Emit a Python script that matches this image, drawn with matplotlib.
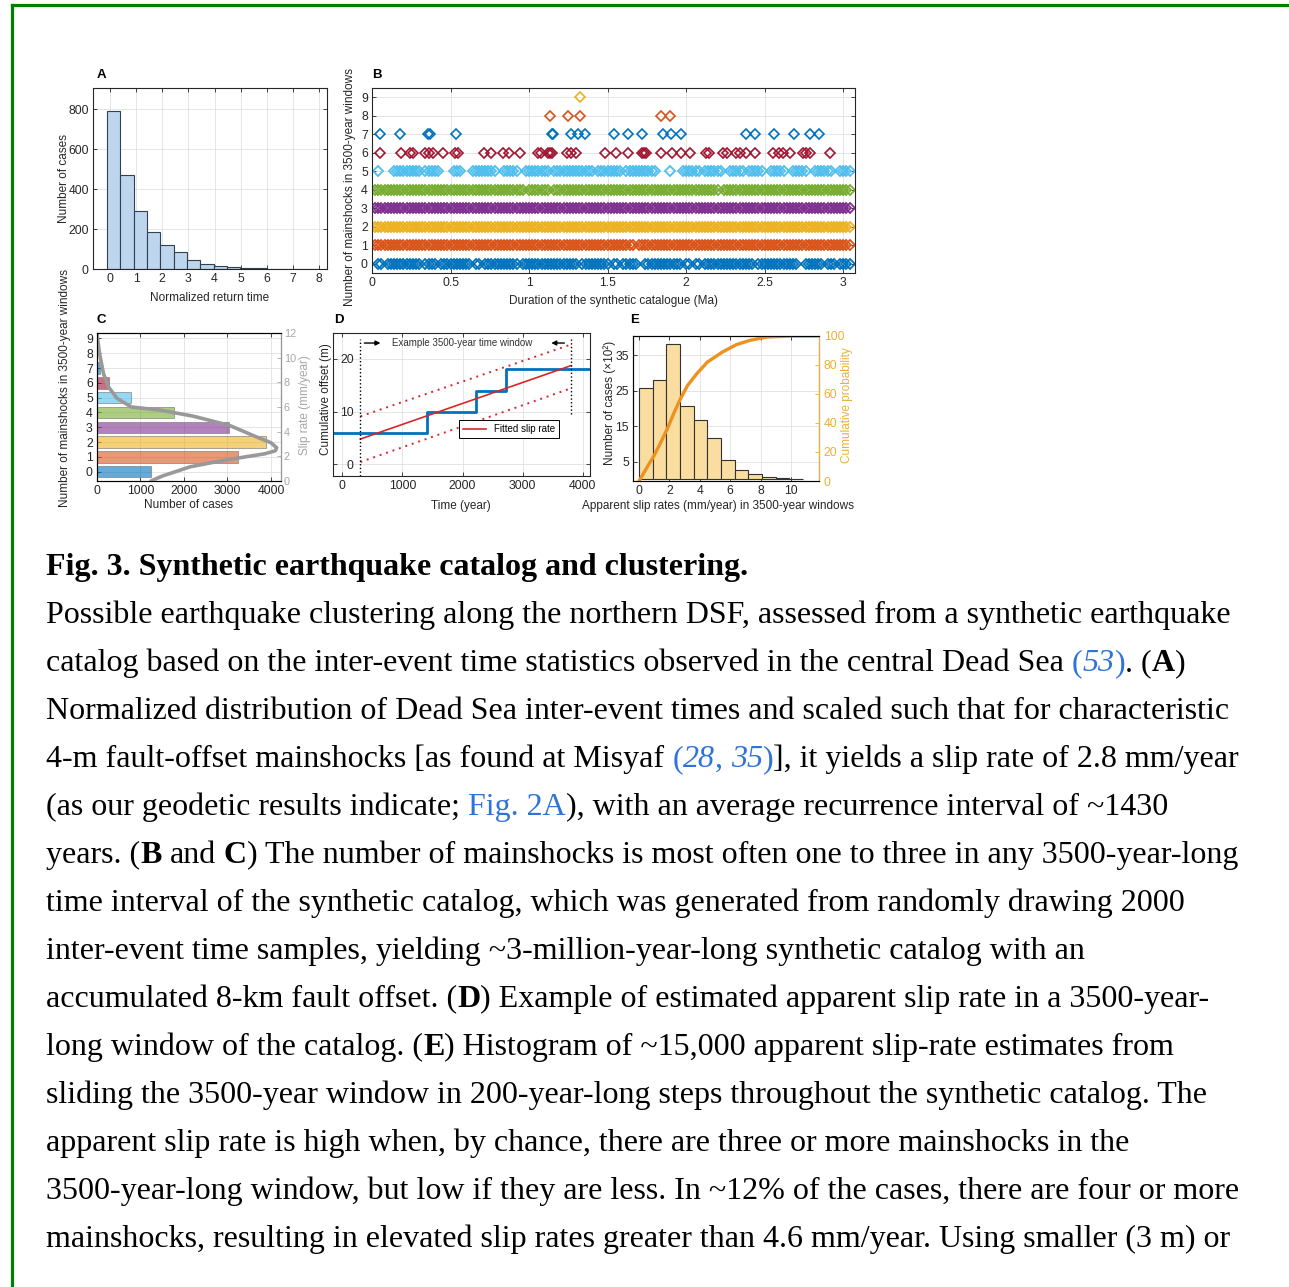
import matplotlib
matplotlib.use("Agg")
import matplotlib.pyplot as plt
from matplotlib import ticker
from matplotlib.lines import Line2D

W, H = 1289, 1287

# ---------------- A: normalized return time
a_edges = [-0.12, 0.39, 0.90, 1.41, 1.92, 2.43, 2.94, 3.45, 3.96, 4.47, 4.98,
           5.49, 6.00, 6.51, 7.02, 7.53, 8.04]
a_counts = [790, 472, 292, 185, 118, 84, 47, 27, 15, 11, 5, 3, 2, 2, 1, 1]

# ---------------- B: windows per mainshock count (1 char = 0.02 Ma bin)
b_bin = 0.02
b_rows = [
    "0011011111 1111110111 1011111111 1101101111 1111111011 1111111111 1111110111 1111110110 "
    "1111100111 1111111110 1101101111 1111111111 1101111111 1111110011 1111011101 1110000000",
    "0111111111 1111111111 1111111111 1111111111 1111111111 1111111111 1111111111 1111111111 "
    "1111011111 1111111111 1111111111 1111111111 1111111111 1111111111 1111111111 1110000000",
    "0111111111 1111111111 1111111111 1111111111 1111111111 1111111111 1111111111 1111111111 "
    "1111111111 1111111111 1111111111 1111111111 1111111111 1111111111 1111111111 1110000000",
    "0111111111 1111111111 1111111111 1111111111 1111111111 1111111111 1111111111 1111111111 "
    "1111111111 1111111111 1111111111 1111111111 1111111111 1111111111 1111111111 1110000000",
    "0111111111 1111111111 1111111111 1111111111 1111111110 1111111011 1111111111 1111111111 "
    "1111111111 1111111111 1111111111 1011111111 1111111111 1111111111 1111111111 1110000000",
    "0010000111 1111110111 1100001110 0011111111 0011111001 1111111011 1111111111 1011111111 "
    "0111111111 1000010001 1111101111 1100111110 1111100111 1100111110 0111111001 1110000000",
]
b_row6 = [0.053, 0.183, 0.24, 0.261, 0.335, 0.363, 0.389, 0.452, 0.527, 0.548, 0.711,
          0.760, 0.834, 0.873, 0.941, 1.057, 1.079, 1.121, 1.136, 1.149, 1.244, 1.270,
          1.301, 1.486, 1.552, 1.631, 1.716, 1.730, 1.743, 1.843, 1.913, 1.970, 2.023,
          2.125, 2.146, 2.236, 2.257, 2.32, 2.342, 2.38, 2.437, 2.554, 2.592, 2.614,
          2.66, 2.745, 2.766, 2.788, 2.919]
b_row7 = [0.053, 0.176, 0.357, 0.372, 0.537, 1.147, 1.153, 1.265, 1.312, 1.359, 1.539,
          1.631, 1.722, 1.853, 1.902, 1.970, 2.38, 2.437, 2.561, 2.686, 2.788, 2.845]
b_row8 = [1.136, 1.248, 1.327, 1.843, 1.896]
b_row9 = [1.327]
mcol = [(0, 0.447, 0.741), (0.85, 0.325, 0.098), (0.929, 0.694, 0.125),
        (0.494, 0.184, 0.556), (0.466, 0.674, 0.188), (0.301, 0.745, 0.933),
        (0.635, 0.078, 0.184), (0, 0.447, 0.741), (0.85, 0.325, 0.098),
        (0.929, 0.694, 0.125)]

# ---------------- C: counts per number of mainshocks + slip-rate curve
c_levels = [0, 1, 2, 3, 4, 5, 6, 7, 8, 9]
c_counts = [1240, 3250, 3880, 3040, 1760, 790, 285, 60, 10, 2]
c_curve_cases = [1240, 1500, 2140, 2800, 3400, 3850, 4100, 4130, 4000, 3650, 3050,
                 2220, 1450, 790, 460, 270, 150, 60, 15, 0]
c_curve_rate = [0.0, 0.4, 1.15, 1.6, 1.95, 2.2, 2.45, 2.7, 3.1, 3.6, 4.5,
                5.25, 5.75, 6.0, 6.7, 7.6, 8.7, 10.3, 11.5, 12.0]

# ---------------- D: example window
d_step_t = [-155, 1410, 2230, 2715, 4120]
d_step_off = [6, 10, 14, 18, 18]
d_fit_t = [300, 3800]
d_fit = [4.8, 18.7]
d_fit_hi = [9.1, 22.7]
d_fit_lo = [0.45, 14.4]

# ---------------- E: apparent slip rates
e_edges = [0, 0.9, 1.8, 2.7, 3.6, 4.5, 5.4, 6.3, 7.2, 8.1, 9.0, 9.9, 10.8]
e_counts = [25.7, 28.0, 38.1, 20.6, 16.7, 11.7, 5.3, 2.7, 1.4, 0.75, 0.3, 0.2]
e_cdf_x = [0, 0.5, 0.94, 1.4, 1.86, 2.3, 2.74, 3.2, 3.8, 4.5, 5.5, 6.4, 7.3, 8.4, 10, 11.9]
e_cdf_y = [0, 9, 16.6, 26, 36, 47, 57, 66, 74, 82, 89, 94, 97, 99.3, 100, 100]

# ---------------- caption
caption = [
    [("Fig. 3. Synthetic earthquake catalog and clustering.", "b")],
    [("Possible earthquake clustering along the northern DSF, assessed from a synthetic earthquake", "n")],
    [("catalog based on the inter-event time statistics observed in the central Dead Sea ", "n"),
     ("(", "ln"), ("53", "li"), (")", "ln"), (". (", "n"), ("A", "b"), (")", "n")],
    [("Normalized distribution of Dead Sea inter-event times and scaled such that for characteristic", "n")],
    [("4-m fault-offset mainshocks [as found at Misyaf ", "n"), ("(", "ln"), ("28", "li"),
     (", ", "ln"), ("35", "li"), (")", "ln"), ("], it yields a slip rate of 2.8 mm/year", "n")],
    [("(as our geodetic results indicate; ", "n"), ("Fig. 2A", "ln"),
     ("), with an average recurrence interval of ~1430", "n")],
    [("years. (", "n"), ("B", "b"), (" and ", "n"), ("C", "b"),
     (") The number of mainshocks is most often one to three in any 3500-year-long", "n")],
    [("time interval of the synthetic catalog, which was generated from randomly drawing 2000", "n")],
    [("inter-event time samples, yielding ~3-million-year-long synthetic catalog with an", "n")],
    [("accumulated 8-km fault offset. (", "n"), ("D", "b"),
     (") Example of estimated apparent slip rate in a 3500-year-", "n")],
    [("long window of the catalog. (", "n"), ("E", "b"),
     (") Histogram of ~15,000 apparent slip-rate estimates from", "n")],
    [("sliding the 3500-year window in 200-year-long steps throughout the synthetic catalog. The", "n")],
    [("apparent slip rate is high when, by chance, there are three or more mainshocks in the", "n")],
    [("3500-year-long window, but low if they are less. In ~12% of the cases, there are four or more", "n")],
    [("mainshocks, resulting in elevated slip rates greater than 4.6 mm/year. Using smaller (3 m) or", "n")],
]

plt.rcParams['font.family'] = ['Liberation Sans', 'DejaVu Sans']
dark = (0.15, 0.15, 0.15)
fs = 8.5    # axis labels
tfs = 8.8   # tick labels

fig = plt.figure(figsize=(W / 100, H / 100), dpi=100)


def px_axes(l, t, r, b):
    return fig.add_axes([l / W, 1 - b / H, (r - l) / W, (b - t) / H])


def style(ax, right=True):
    ax.tick_params(direction='in', length=3, width=0.6, labelsize=tfs, colors=dark,
                   top=True, right=right, pad=3)
    for sp in ax.spines.values():
        sp.set_color(dark)
        sp.set_linewidth(0.8)
    ax.grid(True, color='0.88', lw=0.6)
    ax.set_axisbelow(True)


# ---- A
ax = px_axes(93, 88, 327, 269)
style(ax)
ax.bar(a_edges[:-1], a_counts, width=[a_edges[i + 1] - a_edges[i] for i in range(len(a_counts))],
       align='edge', color=(0.74, 0.84, 0.93), edgecolor=(0.2, 0.25, 0.3), linewidth=0.8)
ax.set_xlim(-0.65, 8.3)
ax.set_ylim(0, 905)
ax.set_xticks(range(9))
ax.set_yticks([0, 200, 400, 600, 800])
ax.set_xlabel("Normalized return time", fontsize=fs, color=dark)
ax.set_ylabel("Number of cases", fontsize=fs, color=dark)
ax.xaxis.set_label_coords(0.5, -0.125)
ax.yaxis.set_label_coords(-0.10, 0.5)

# ---- B
ax = px_axes(372, 88, 855, 273)
style(ax)
for lvl, s in enumerate(b_rows):
    s = s.replace(' ', '')
    xs = [i * b_bin for i, c in enumerate(s) if c == '1']
    ax.plot(xs, [lvl] * len(xs), 'D', ms=4.8, mfc='none', mec=mcol[lvl], mew=1.3)
for lvl, xs in [(6, b_row6), (7, b_row7), (8, b_row8), (9, b_row9)]:
    ax.plot(xs, [lvl] * len(xs), 'D', ms=4.8, mfc='none', mec=mcol[lvl], mew=1.2)
ax.set_xlim(0, 3.075)
ax.set_ylim(-0.5, 9.5)
ax.set_yticks(range(10))
ax.set_xticks([0, 0.5, 1, 1.5, 2, 2.5, 3])
ax.xaxis.set_major_formatter(ticker.FormatStrFormatter('%g'))
ax.set_xlabel("Duration of the synthetic catalogue (Ma)", fontsize=fs, color=dark)
ax.set_ylabel("Number of mainshocks in 3500-year windows", fontsize=fs, color=dark)
ax.xaxis.set_label_coords(0.5, -0.12)
ax.yaxis.set_label_coords(-0.033, 0.465)

# ---- C
ax = px_axes(97, 333, 281, 481)
style(ax, right=False)
ax.barh(c_levels, c_counts, height=0.78, color=[mcol[k] for k in c_levels], alpha=0.6,
        edgecolor=(0.45, 0.45, 0.45), linewidth=0.7)
ax.set_xlim(0, 4230)
ax.set_ylim(-0.63, 9.37)
ax.set_yticks(c_levels)
ax.set_xticks([0, 1000, 2000, 3000, 4000])
ax.set_xlabel("Number of cases", fontsize=fs, color=dark)
ax.set_ylabel("Number of mainshocks in 3500-year windows", fontsize=fs, color=dark)
ax.xaxis.set_label_coords(0.5, -0.125)
ax.yaxis.set_label_coords(-0.14, 0.63)
ax2 = ax.twinx()
ax2.plot(c_curve_cases, c_curve_rate, color=(0.6, 0.6, 0.6), lw=2.6, solid_capstyle='round')
ax2.set_ylim(0, 12)
ax2.set_yticks(range(0, 13, 2))
ax2.tick_params(direction='in', length=3, width=0.6, labelsize=7.8, colors=(0.65, 0.65, 0.65),
                pad=2)
ax2.spines['right'].set_color((0.6, 0.6, 0.6))
ax2.set_ylabel("Slip rate (mm/year)", fontsize=fs, color=(0.65, 0.65, 0.65))
ax2.yaxis.set_label_coords(1.1, 0.51)

# ---- D
ax = px_axes(333, 333, 590, 476)
style(ax)
ax.tick_params(axis='y', pad=-15)
ax.step(d_step_t, d_step_off, where='post', color=mcol[0], lw=2)
ax.plot(d_fit_t, d_fit, color=(0.85, 0.15, 0.15), lw=1.2, label="Fitted slip rate")
ax.plot(d_fit_t, d_fit_hi, color=(0.85, 0.15, 0.15), lw=1.4, ls=(0, (1, 2.5)))
ax.plot(d_fit_t, d_fit_lo, color=(0.85, 0.15, 0.15), lw=1.4, ls=(0, (1, 2.5)))
ax.plot([d_fit_t[0]] * 2, [-2.2, 23.8], color='k', lw=1, ls=':')
ax.plot([d_fit_t[1]] * 2, [9.5, 23.8], color='k', lw=1, ls=':')
ax.annotate('', xy=(680, 23.0), xytext=(320, 23.0),
            arrowprops=dict(arrowstyle='-|>', color='k', lw=1, mutation_scale=7))
ax.annotate('', xy=(3430, 23.0), xytext=(3740, 23.0),
            arrowprops=dict(arrowstyle='-|>', color='k', lw=1, mutation_scale=7))
ax.text(820, 23.0, "Example 3500-year time window", fontsize=7, va='center', color=(0.2, 0.2, 0.2))
ax.set_xlim(-155, 4120)
ax.set_ylim(-2.2, 24.9)
ax.set_xticks([0, 1000, 2000, 3000, 4000])
ax.set_yticks([0, 10, 20])
leg = ax.legend(loc='lower left', bbox_to_anchor=(0.47, 0.23), fontsize=7, fancybox=False,
                framealpha=1, edgecolor='k', handlelength=2.4, borderpad=0.4)
leg.get_frame().set_linewidth(0.7)
ax.set_xlabel("Time (year)", fontsize=fs, color=dark)
ax.set_ylabel("Cumulative offset (m)", fontsize=fs, color=dark)
ax.xaxis.set_label_coords(0.498, -0.165)
ax.yaxis.set_label_coords(-0.004, 0.54)

# ---- E
ax = px_axes(633, 336, 819, 481)
style(ax, right=False)
ax.bar(e_edges[:-1], e_counts, width=[e_edges[i + 1] - e_edges[i] for i in range(len(e_counts))],
       align='edge', color=(0.98, 0.87, 0.63), edgecolor=(0.2, 0.2, 0.2), linewidth=0.8)
ax.set_xlim(-0.4, 11.85)
ax.set_ylim(-0.5, 40.5)
ax.set_xticks([0, 2, 4, 6, 8, 10])
ax.set_yticks([5, 15, 25, 35])
ax.set_xlabel("Apparent slip rates (mm/year) in 3500-year windows", fontsize=fs, color=dark)
ax.set_ylabel("Number of cases (\u00d710\u00b2)", fontsize=fs, color=dark)
ax.xaxis.set_label_coords(0.457, -0.13)
ax.yaxis.set_label_coords(-0.09, 0.54)
gold = (0.93, 0.69, 0.2)
ax2 = ax.twinx()
ax2.plot(e_cdf_x, e_cdf_y, color=(0.93, 0.57, 0.12), lw=2.4)
ax2.set_ylim(0, 100)
ax2.set_yticks(range(0, 101, 20))
ax2.tick_params(direction='in', length=3, width=0.6, labelsize=tfs, colors=gold)
ax2.spines['right'].set_color(gold)
ax2.set_ylabel("Cumulative probability", fontsize=fs, color=gold)
ax2.yaxis.set_label_coords(1.118, 0.52)

# panel letters
for letter, x, y in [("A", 97, 75), ("B", 372, 75), ("C", 97, 320), ("D", 334, 320), ("E", 630, 320)]:
    fig.text(x / W, 1 - y / H, letter, fontsize=9.5, fontweight='bold', va='center', ha='left')

# green frame
fig.add_artist(Line2D([12 / W, 1], [1 - 5 / H] * 2, color=(0, 0.5, 0), lw=2.3))
fig.add_artist(Line2D([12 / W] * 2, [0, 1 - 5 / H], color=(0, 0.5, 0), lw=2.3))

# caption text
renderer = fig.canvas.get_renderer()
serif = ['Liberation Serif', 'DejaVu Serif']
link = (0.18, 0.45, 0.86)
props = {
    'n': dict(family=serif, fontsize=23, color='black'),
    'b': dict(family=serif, fontsize=23, color='black', fontweight='bold'),
    'ln': dict(family=serif, fontsize=23, color=link),
    'li': dict(family=serif, fontsize=23, color=link, fontstyle='italic'),
}


def advance(s, kw):
    t1 = fig.text(0, 0, '|' + s + '|', **kw)
    t2 = fig.text(0, 0, '||', **kw)
    w = t1.get_window_extent(renderer).width - t2.get_window_extent(renderer).width
    t1.remove()
    t2.remove()
    return w


base = 575
for line in caption:
    x = 46
    for s, st in line:
        kw = props[st]
        core = s.strip(' ')
        lead = len(s) - len(s.lstrip(' '))
        trail = len(s) - len(s.rstrip(' '))
        x += lead * advance(' ', kw)
        fig.text(x / W, 1 - base / H, core, va='baseline', ha='left', **kw)
        x += advance(core, kw) + trail * advance(' ', kw)
    base += 48

fig.savefig("out.png", dpi=100)
